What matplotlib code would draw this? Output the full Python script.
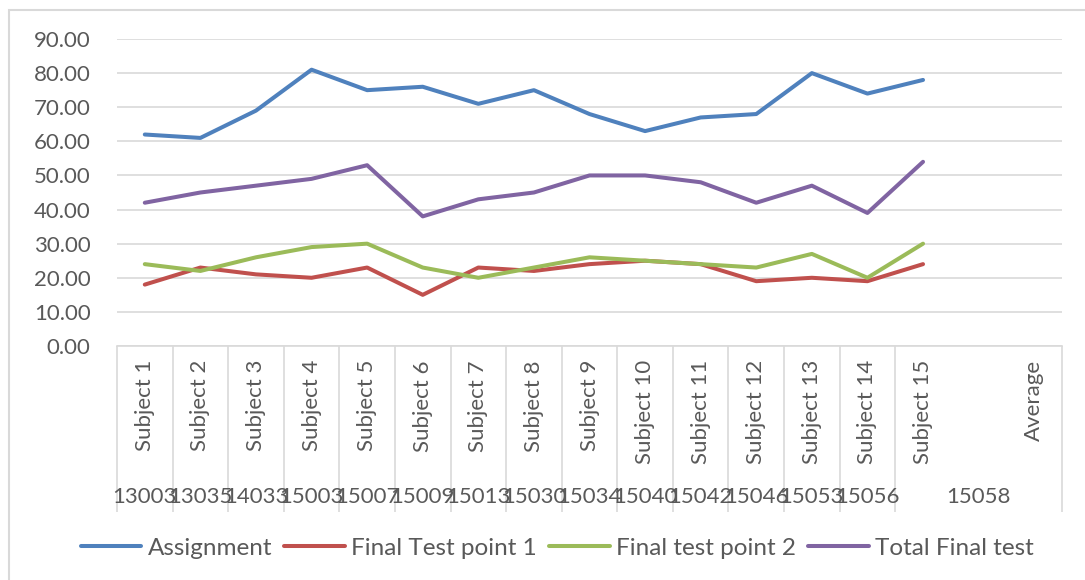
import numpy as np
import matplotlib.pyplot as plt
from matplotlib.patches import Rectangle

# categories (inner level) and student ids (outer level)
subjects = ['Subject %d' % i for i in range(1, 16)] + ['', 'Average']
student_ids = ['13003', '13035', '14033', '15003', '15007', '15009', '15013',
               '15030', '15034', '15040', '15042', '15046', '15053', '15056', '15058']
# first category of each id group (last group runs to the end)
group_start = list(range(15))

assignment = [62, 61, 69, 81, 75, 76, 71, 75, 68, 63, 67, 68, 80, 74, 78]
test_point1 = [18, 23, 21, 20, 23, 15, 23, 22, 24, 25, 24, 19, 20, 19, 24]
test_point2 = [24, 22, 26, 29, 30, 23, 20, 23, 26, 25, 24, 23, 27, 20, 30]
total_final = [42, 45, 47, 49, 53, 38, 43, 45, 50, 50, 48, 42, 47, 39, 54]

series = [('Assignment', assignment, '#4F81BD'),
          ('Final Test point 1', test_point1, '#C0504D'),
          ('Final test point 2', test_point2, '#9BBB59'),
          ('Total Final test', total_final, '#8064A2')]

plt.rcParams['font.family'] = ['Lato', 'DejaVu Sans']
txt = '#595959'
grid = '#d9d9d9'

fig = plt.figure(figsize=(10.85, 5.8), dpi=100)
ax = fig.add_axes([117/1085, 1-346/580, (1062-117)/1085, (346-39)/580])

for name, vals, col in series:
    ax.plot(np.arange(len(vals)), vals, color=col, lw=2.9, label=name,
            solid_capstyle='round', solid_joinstyle='round')

ax.set_xlim(-0.5, len(subjects) - 0.5)
ax.set_ylim(0, 90)
ax.set_yticks(np.arange(0, 91, 10))
ax.set_yticklabels(['%.2f' % v for v in np.arange(0, 91, 10)])
ax.tick_params(axis='y', length=0, pad=19, labelsize=16, labelcolor=txt)
ax.set_xticks([])
ax.grid(axis='y', color=grid, lw=1.2)
ax.set_axisbelow(True)
for s in ['top', 'left', 'right']:
    ax.spines[s].set_visible(False)
ax.spines['bottom'].set_color(grid)
ax.spines['bottom'].set_linewidth(1.2)

# multi-level category axis
trans = ax.get_xaxis_transform()
bottom = -(512-346)/307
group_end = [g - 1 for g in group_start[1:]] + [len(subjects) - 1]
bounds = [g - 0.5 for g in group_start] + [group_end[-1] + 0.5]
ax.vlines(bounds, bottom, 0, transform=trans, color=grid, lw=1.2, clip_on=False)
for i, lab in enumerate(subjects):
    ax.text(i, -14/307, lab, transform=trans, rotation=90, ha='center', va='top',
            fontsize=16, color=txt)
for sid, g0, g1 in zip(student_ids, group_start, group_end):
    ax.text((g0 + g1) / 2, -(497-346)/307, sid, transform=trans, ha='center',
            va='center', fontsize=16, color=txt)

fig.legend(loc='center', bbox_to_anchor=(557/1085, 1-548/580), ncol=4,
           frameon=False, fontsize=17.5, labelcolor=txt, handlelength=2.5,
           handletextpad=0.25, columnspacing=0.5)

# chart area border (cut at right and bottom)
fig.patches.append(Rectangle((9/1085, -0.1), 1.2, 1.1 - 10/580, transform=fig.transFigure,
                             fill=False, edgecolor=grid, lw=1.5))

fig.savefig('out.png', dpi=100)
